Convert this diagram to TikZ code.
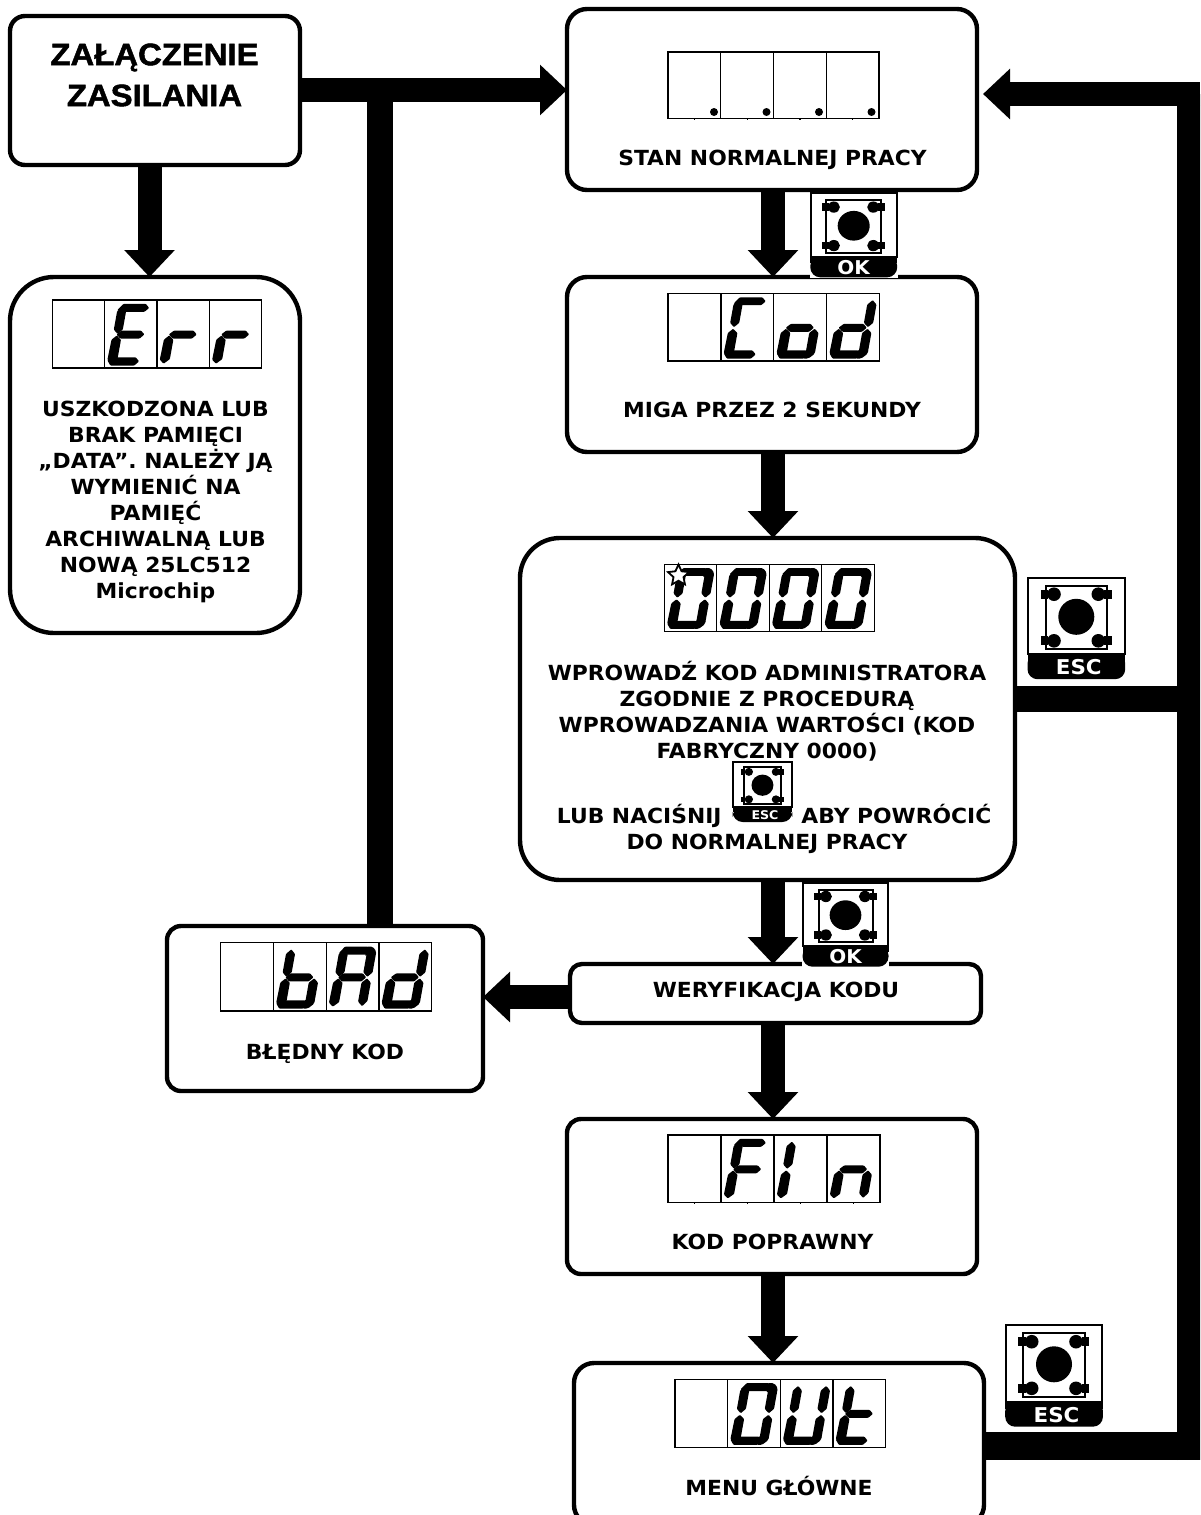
\documentclass[tikz,border=0pt]{standalone}
\usepackage{fontspec}
\usetikzlibrary{arrows.meta,shapes.geometric,calc}
\setmainfont[FakeStretch=1.05]{DejaVu Sans}
\newfontfamily\titlefont[BoldFeatures={FakeBold=1.6,FakeStretch=1.06}]{Liberation Sans}
\tikzset{
  x=0.5pt,y=-0.5pt,
  box/.style={draw=black,line width=2.2pt,fill=white,inner sep=0pt,outer sep=0pt,anchor=north west},
  lbl/.style={font=\fontsize{10.4pt}{13pt}\bfseries,align=center,inner sep=0pt,text=black},
  base lbl/.style={lbl,anchor=base},
  title/.style={font=\titlefont\fontsize{15.5pt}{20.5pt}\bfseries,align=center,inner sep=0pt},
  flow/.style={line width=12pt,draw=black,-{Triangle[length=13.5pt,width=24.5pt]}},
  bar/.style={line width=13pt,draw=black},
  thin/.style={draw=black,line width=0.62pt},
}
% segments in cell coordinates, before the slant; each free end is pointed
\newcommand{\sgA}{\fill[rounded corners=0.4pt] (17,3.8) -- (39.5,3.8) -- (43.5,7.8) -- (39.5,11.6) -- (21,11.6) -- (12,10) -- cycle;}
\newcommand{\sgB}{\fill[rounded corners=0.4pt] (44.5,6.5) -- (49,11) -- (49,29) -- (44.5,33.3) -- (39.8,29) -- (39.8,11) -- cycle;}
\newcommand{\sgC}{\fill[rounded corners=0.4pt] (44.5,34.8) -- (49,39) -- (49,57) -- (44.5,62) -- (39.8,57.5) -- (39.8,39) -- cycle;}
\newcommand{\sgD}{\fill[rounded corners=0.4pt] (39,56.2) -- (43,60.2) -- (39,64.3) -- (15,64.3) -- (11,59) -- (21,56.2) -- cycle;}
\newcommand{\sgE}{\fill[rounded corners=0.4pt] (16,34.8) -- (21,39) -- (21,58) -- (15.5,62.5) -- (11,58.5) -- (11.5,39) -- cycle;}
\newcommand{\sgF}{\fill[rounded corners=0.4pt] (16.5,6.5) -- (21,11) -- (21,29) -- (16.5,33.3) -- (12,29) -- (12,11) -- cycle;}
\newcommand{\sgG}{\fill[rounded corners=0.4pt] (15.5,33.8) -- (20,30) -- (39.5,30) -- (43.5,33.8) -- (39.5,37.8) -- (20,37.8) -- cycle;}
% joined corners, top right (a with b) and bottom right (d with c)
\newcommand{\sgAB}{\fill[rounded corners=0.8pt] (38,3.8) -- (44.5,3.8) -- (49,8.5) -- (49,13) -- (39.8,13) -- (38,11.6) -- cycle;}
\newcommand{\sgDC}{\fill[rounded corners=0.8pt] (38,56.2) -- (49,55) -- (49,59.5) -- (43.5,64.3) -- (38,64.3) -- cycle;}
% \disp{left}{top}{width}{height}{cell 1}{cell 2}{cell 3}{cell 4}{extra}
\newcommand{\disp}[9]{%
  \begin{scope}[shift={(#1,#2)}]
    \pgfmathsetmacro{\cw}{#3/4}
    \draw[thin] (0,0) rectangle (#3,#4);
    \foreach \i in {1,2,3}{\draw[thin] ({\i*\cw},0) -- ({\i*\cw},#4);}
    \foreach \i in {0,1,2,3}{\draw[thin] ({(\i+.5)*\cw},#4) -- ({(\i+.5)*\cw},{#4+1});}
    \begin{scope}[shift={(2.5,0)},xslant=0.18,yscale=#4/66.7,xscale=\cw/52.5]
      #5
    \end{scope}
    \begin{scope}[shift={({\cw+2.5},0)},xslant=0.18,yscale=#4/66.7,xscale=\cw/52.5]
      #6
    \end{scope}
    \begin{scope}[shift={({2*\cw+2.5},0)},xslant=0.18,yscale=#4/66.7,xscale=\cw/52.5]
      #7
    \end{scope}
    \begin{scope}[shift={({3*\cw+2.5},0)},xslant=0.18,yscale=#4/66.7,xscale=\cw/52.5]
      #8
    \end{scope}
    #9
  \end{scope}}
\newcommand{\dE}{\sgA\sgD\sgE\sgF\sgG}
\newcommand{\dR}{\sgE\sgG}
\newcommand{\dC}{\sgA\sgD\sgE\sgF}
\newcommand{\dO}{\sgC\sgD\sgDC\sgE\sgG}
\newcommand{\dD}{\sgB\sgC\sgD\sgDC\sgE\sgG}
\newcommand{\dZ}{\sgA\sgAB\sgB\sgC\sgD\sgDC\sgE\sgF}
\newcommand{\dB}{\sgC\sgD\sgDC\sgE\sgF\sgG}
\newcommand{\dA}{\sgA\sgAB\sgB\sgC\sgE\sgF\sgG}
\newcommand{\dF}{\sgA\sgE\sgF\sgG}
\newcommand{\dI}{\sgE\sgF}
\newcommand{\dN}{\sgC\sgE\sgG}
\newcommand{\dU}{\sgB\sgC\sgD\sgDC\sgE\sgF}
\newcommand{\dT}{\sgD\sgE\sgF\sgG}
% \btn{name}{left}{top}{sx}{sy}{label}{fontsize pt}{label x offset}
\newcommand{\btn}[8]{%
  \begin{scope}[shift={(#2,#3)},xscale=#4,yscale=#5]
    \fill[white] (-1,-1) rectangle (97.7,102.7);
    \draw[black,line width=1pt] (0,0) rectangle (96.7,76.7);
    \fill[black,rounded corners=5pt] (-0.5,76) -- (97.2,76) -- (97.2,101.7) -- (-0.5,101.7) -- cycle;
    \fill[black] (-0.5,76) rectangle (97.2,84);
    \draw[black,line width=1pt] (17.7,8.3) rectangle (79,71.7);
    \fill[black] (48.3,39.3) circle[radius=18];
    \foreach \cx/\cy in {26/16.7,70.3/16.7,26/63.3,70.3/63.3}{\fill[black] (\cx,\cy) circle[radius=6.8];}
    \fill[black] (12.7,12.2) rectangle (20,21.2);
    \fill[black] (12.7,58.8) rectangle (20,67.8);
    \fill[black] (76,12.2) rectangle (83.7,21.2);
    \fill[black] (76,58.8) rectangle (83.7,67.8);
  \end{scope}
  \node[font=\fontsize{#7}{#7}\bfseries,text=white,inner sep=0pt] (#1) at ({#2+48.3*#4+#8},{#3+89.6*#5}) {#6};}
\begin{document}
\begin{tikzpicture}
\useasboundingbox (0,0) rectangle (1200,1515);
\begin{scope}
\clip (0,0) rectangle (1200,1515);
% anchors for the trunk lines
\coordinate (spine) at (773,0);
\coordinate (trunkL) at (380,0);
\coordinate (trunkR) at (1190,0);
\coordinate (edgeR) at (1200,0);
\coordinate (topRow) at (0,90);
\coordinate (retTop) at (0,94);
\coordinate (retMid) at (0,699);
\coordinate (retLow) at (0,1446);
\coordinate (retEnd) at (0,1460);
\coordinate (badRow) at (0,997);
\coordinate (zalDown) at (149.5,0);
% boxes
\node[box,rounded corners=7.5pt,minimum width=145pt,minimum height=74.5pt] (zal) at (10,16) {};
\node[box,rounded corners=22pt,minimum width=145pt,minimum height=178pt] (err) at (10,277) {};
\node[box,rounded corners=10pt,minimum width=205pt,minimum height=90.5pt] (norm) at (567,9) {};
\node[box,rounded corners=10pt,minimum width=205pt,minimum height=87.5pt] (cod) at (567,277) {};
\node[box,rounded corners=20pt,minimum width=247.5pt,minimum height=171pt] (adm) at (520,538) {};
\node[box,rounded corners=6pt,minimum width=205.5pt,minimum height=29.5pt] (wer) at (570,964) {};
\node[box,rounded corners=7pt,minimum width=158pt,minimum height=82.5pt] (bad) at (167,926) {};
\node[box,rounded corners=7pt,minimum width=205pt,minimum height=77.5pt] (fin) at (567,1119) {};
\node[box,rounded corners=10pt,minimum width=205pt,minimum height=81pt] (out) at (574,1363) {};
% connectors
\draw[bar,line width=12pt] (zal.east |- topRow) -- (trunkL |- topRow);
\draw[flow] (trunkL |- topRow) -- (norm.west |- topRow);
\draw[bar] (bad.north -| trunkL) -- (trunkL |- topRow);
\draw[flow] (zal.south -| zalDown) -- (err.north -| zalDown);
\draw[flow] (norm.south -| spine) -- (cod.north -| spine);
\draw[flow] (cod.south -| spine) -- (adm.north -| spine);
\draw[flow] (adm.south -| spine) -- (wer.north -| spine);
\draw[flow] (wer.south -| spine) -- (fin.north -| spine);
\draw[flow] (fin.south -| spine) -- (out.north -| spine);
\draw[flow] (wer.west |- badRow) -- (bad.east |- badRow);
\draw[bar] (adm.east |- retMid) -- (trunkR |- retMid);
\draw[bar,line width=14pt] (out.east |- retLow) -- (edgeR |- retLow);
\draw[bar] (trunkR |- retEnd) -- (trunkR |- retTop);
\draw[flow] (edgeR |- retTop) -- ($(norm.east |- retTop)+(6,0)$);
% displays
\disp{668}{52}{211}{66.5}{}{}{}{}{\foreach \dx in {46,98.5,151,203.5}{\fill (\dx,60) circle[radius=4];}}
\disp{668}{293.5}{211.5}{67.5}{}{\dC}{\dO}{\dD}{}
\disp{52.3}{300}{209.5}{68}{}{\dE}{\dR}{\dR}{}
\disp{664.3}{564.3}{210}{67}{\dZ}{\dZ}{\dZ}{\dZ}{}
\disp{220.7}{942.7}{211}{68.3}{}{\dB}{\dA}{\dD}{}
\disp{668}{1135}{212}{67.7}{}{\dF}{\dI}{\dN}{}
\disp{675}{1379.3}{210.7}{68}{}{\dZ}{\dU}{\dT}{}
\node[star,star points=5,star point ratio=2.1,draw=black,fill=white,line width=0.9pt,minimum size=11pt,inner sep=0pt] (st) at (678.5,575.5) {};
% buttons
\btn{bok1}{810.7}{193.3}{0.89}{0.826}{OK}{9.5pt}{0}
\btn{bok2}{803}{882.7}{0.88}{0.826}{OK}{9.5pt}{0}
\btn{besc1}{1028}{577.5}{1}{1}{ESC}{10.2pt}{2.5}
\btn{besc2}{1005.7}{1325}{1}{1}{ESC}{10.2pt}{2.5}
\btn{besc3}{733}{762}{0.61}{0.59}{ESC}{6pt}{2.5}
% texts
\node[title] (t1) at (154.5,75) {ZAŁĄCZENIE\\ZASILANIA};
\node[lbl] (t2) at (155.5,502) {USZKODZONA LUB\\BRAK PAMIĘCI\\„DATA”. NALEŻY JĄ\\WYMIENIĆ NA\\PAMIĘĆ\\ARCHIWALNĄ LUB\\NOWĄ 25LC512\\Microchip};
\node[base lbl] (t3) at (772.5,165.5) {STAN NORMALNEJ PRACY};
\node[base lbl] (t4) at (772,417.5) {MIGA PRZEZ 2 SEKUNDY};
\node[lbl] (t5) at (767,711) {WPROWADŹ KOD ADMINISTRATORA\\ZGODNIE Z PROCEDURĄ\\WPROWADZANIA WARTOŚCI (KOD\\FABRYCZNY 0000)};
\node[base lbl,anchor=base east] (t6) at (722,823) {LUB NACIŚNIJ};
\node[base lbl,anchor=base west] (t7) at (801,823) {ABY POWRÓCIĆ};
\node[base lbl] (t8) at (767,849) {DO NORMALNEJ PRACY};
\node[base lbl] (t9) at (776,997.5) {WERYFIKACJA KODU};
\node[base lbl] (t10) at (325,1059.5) {BŁĘDNY KOD};
\node[base lbl] (t11) at (772.5,1249.5) {KOD POPRAWNY};
\node[base lbl] (t12) at (779,1495) {MENU GŁÓWNE};
\end{scope}
\end{tikzpicture}
\end{document}
